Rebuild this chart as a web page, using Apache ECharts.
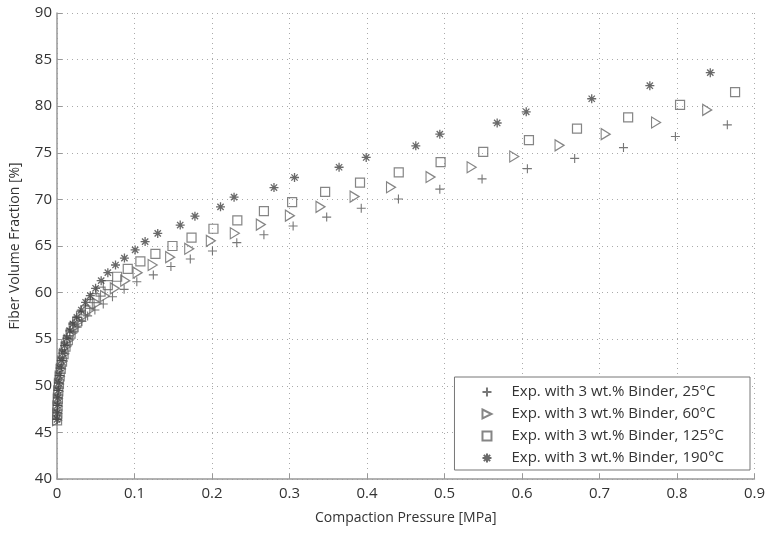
<!DOCTYPE html>
<html>
<head>
<meta charset="utf-8">
<script src="https://cdn.jsdelivr.net/npm/echarts@6/dist/echarts.min.js"></script>
<style>
html,body{margin:0;padding:0;background:#fff;}
#chart{width:768px;height:533px;}
</style>
</head>
<body>
<div id="chart"></div>
<script>
// Series names (legend order)
const seriesNames = [
  'Exp. with 3 wt.% Binder, 25°C',
  'Exp. with 3 wt.% Binder, 60°C',
  'Exp. with 3 wt.% Binder, 125°C',
  'Exp. with 3 wt.% Binder, 190°C'
];

// 25°C (plus)
const p25x = [0.0002,0.0005,0.0009,0.0014,0.0021,0.003,0.0042,0.0058,0.0078,0.0103,0.0133,0.0168,0.021,0.026,0.032,0.0395,0.0489,0.0597,0.0716,0.0866,0.103,0.1243,0.147,0.172,0.2006,0.232,0.267,0.3047,0.348,0.3926,0.4406,0.494,0.5485,0.607,0.668,0.731,0.798,0.865];
const p25y = [46.4,47.1,47.9,48.7,49.5,50.3,51.1,51.9,52.7,53.5,54.3,55.0,55.7,56.3,56.9,57.5,58.13,58.78,59.56,60.35,61.17,61.9,62.8,63.6,64.47,65.36,66.2,67.15,68.1,69.05,70.05,71.1,72.2,73.3,74.4,75.56,76.75,78.0];

// 60°C (triangle)
const p60x = [0.0001,0.0004,0.0007,0.0011,0.0017,0.0025,0.0036,0.005,0.0068,0.009,0.0117,0.0148,0.0185,0.023,0.028,0.0343,0.0425,0.0514,0.062,0.0746,0.088,0.104,0.1234,0.146,0.1706,0.1985,0.2294,0.263,0.3005,0.340,0.384,0.431,0.482,0.535,0.590,0.6485,0.708,0.773,0.839];
const p60y = [46.3,47.0,47.8,48.6,49.4,50.2,51.0,51.8,52.6,53.4,54.2,54.9,55.6,56.3,56.9,57.5,58.13,58.85,59.63,60.46,61.28,62.14,62.96,63.8,64.7,65.55,66.37,67.3,68.25,69.2,70.3,71.3,72.4,73.45,74.6,75.8,77.0,78.25,79.6];

// 125°C (square)
const p125x = [0.0001,0.0004,0.0007,0.0011,0.0017,0.0025,0.0035,0.0048,0.0065,0.0085,0.011,0.014,0.0175,0.0215,0.026,0.031,0.0365,0.042,0.0485,0.0562,0.0656,0.0776,0.0913,0.1076,0.127,0.149,0.1736,0.2019,0.2327,0.267,0.3034,0.346,0.391,0.441,0.495,0.550,0.609,0.671,0.737,0.804,0.875];
const p125y = [46.3,47.0,47.8,48.6,49.4,50.2,51.0,51.8,52.6,53.4,54.2,54.9,55.6,56.3,56.9,57.5,58.1,58.8,59.4,60.1,60.8,61.7,62.55,63.35,64.15,65.0,65.9,66.85,67.75,68.75,69.7,70.8,71.8,72.9,74.0,75.1,76.35,77.6,78.8,80.15,81.5];

// 190°C (asterisk)
const p190x = [0.0001,0.0003,0.0006,0.0009,0.0014,0.002,0.0029,0.004,0.0055,0.0074,0.0098,0.0128,0.0165,0.0206,0.0257,0.0314,0.0369,0.043,0.0498,0.057,0.0656,0.0755,0.087,0.1008,0.1137,0.130,0.159,0.178,0.211,0.2285,0.280,0.3065,0.364,0.399,0.463,0.494,0.568,0.6055,0.690,0.765,0.843];
const p190y = [46.4,47.1,47.9,48.7,49.5,50.3,51.1,51.9,52.7,53.5,54.3,55.1,55.9,56.63,57.35,58.13,58.96,59.67,60.46,61.28,62.14,62.96,63.7,64.58,65.47,66.35,67.25,68.2,69.2,70.24,71.27,72.35,73.45,74.5,75.75,77.0,78.2,79.4,80.8,82.2,83.6];

// Axis ticks
const xTicks = [0,0.1,0.2,0.3,0.4,0.5,0.6,0.7,0.8,0.9];
const yTicks = [40,45,50,55,60,65,70,75,80,85,90];

const zip = (xs, ys) => xs.map((x, i) => [x, ys[i]]);

const FONT = 'Open Sans';
const symPlus = 'path://M5,0L5,10M0,5L10,5';
const symTri = 'path://M0,0L10,5L0,10Z';
const symStar = 'path://M5,0L5,10M0,5L10,5M1.5,1.5L8.5,8.5M8.5,1.5L1.5,8.5';

const chart = echarts.init(document.getElementById('chart'), null, {renderer: 'canvas'});
chart.setOption({
  animation: false,
  backgroundColor: '#fff',
  textStyle: {fontFamily: FONT},
  grid: {left: 57, right: 11, top: 13, bottom: 54, containLabel: false},
  xAxis: {
    type: 'value', min: xTicks[0], max: xTicks[xTicks.length - 1], interval: 0.1,
    name: 'Compaction Pressure [MPa]', nameLocation: 'middle', nameGap: 32,
    nameTextStyle: {fontFamily: FONT, fontSize: 14, color: '#333'},
    axisLine: {show: true, lineStyle: {color: '#999', width: 1.5}},
    axisTick: {show: true, inside: true, length: 5, lineStyle: {color: '#999'}},
    axisLabel: {fontFamily: FONT, fontSize: 15, color: '#333', margin: 7,
      formatter: v => String(Math.round(v * 10) / 10)},
    splitLine: {show: true, lineStyle: {type: [1, 4], color: '#aaa', width: 1}}
  },
  yAxis: {
    type: 'value', min: yTicks[0], max: yTicks[yTicks.length - 1], interval: 5,
    name: 'Fiber Volume Fraction [%]', nameLocation: 'middle', nameGap: 35,
    nameTextStyle: {fontFamily: FONT, fontSize: 14, color: '#333'},
    axisLine: {show: true, lineStyle: {color: '#999', width: 1.5}},
    axisTick: {show: true, inside: true, length: 5, lineStyle: {color: '#999'}},
    axisLabel: {fontFamily: FONT, fontSize: 15, color: '#333', margin: 5},
    splitLine: {show: true, lineStyle: {type: [1, 4], color: '#aaa', width: 1}}
  },
  legend: {
    orient: 'vertical', right: 18, top: 377,
    data: seriesNames,
    backgroundColor: '#fff', borderColor: '#777', borderWidth: 1,
    padding: [7, 26, 4, 27], itemGap: 6, itemWidth: 9, itemHeight: 9,
    textStyle: {fontFamily: FONT, fontSize: 15, lineHeight: 16, color: '#333', padding: [0, 0, 0, 15]}
  },
  series: [
    {name: seriesNames[0], type: 'scatter', data: zip(p25x, p25y), symbol: symPlus, symbolSize: 9,
     itemStyle: {color: 'rgba(0,0,0,0)', borderColor: '#555', borderWidth: 1.1}},
    {name: seriesNames[1], type: 'scatter', data: zip(p60x, p60y), symbol: symTri, symbolSize: [9, 11],
     itemStyle: {color: 'rgba(255,255,255,0)', borderColor: '#666', borderWidth: 1.2}},
    {name: seriesNames[2], type: 'scatter', data: zip(p125x, p125y), symbol: 'rect', symbolSize: 9,
     itemStyle: {color: 'rgba(255,255,255,0)', borderColor: '#666', borderWidth: 1.2}},
    {name: seriesNames[3], type: 'scatter', data: zip(p190x, p190y), symbol: symStar, symbolSize: 9,
     itemStyle: {color: '#333', borderColor: '#444', borderWidth: 1.3}}
  ]
});
</script>
</body>
</html>
